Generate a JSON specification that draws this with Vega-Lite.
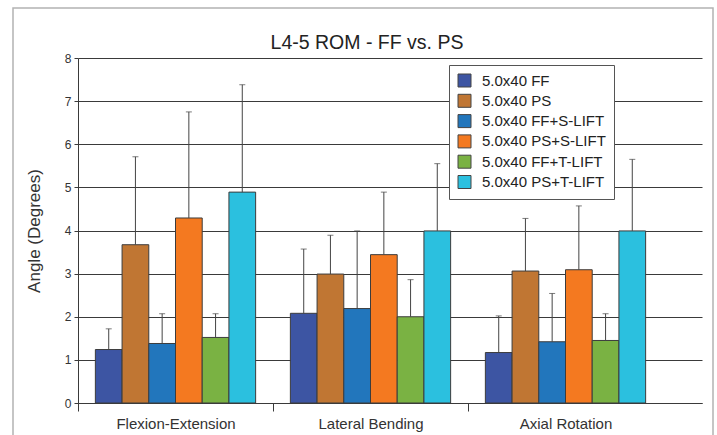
{
  "$schema": "https://vega.github.io/schema/vega-lite/v6.json",
  "width": 700,
  "height": 430,
  "autosize": {"type": "none"},
  "padding": {"left": 13, "top": 8, "right": 4, "bottom": 0},
  "background": "white",
  "config": {
    "font": "Liberation Sans",
    "view": {"stroke": "#b3b3b3", "strokeWidth": 1.5},
    "axis": {"labelColor": "#333", "titleColor": "#333", "domainColor": "#3a3a3a", "tickColor": "#3a3a3a", "gridColor": "#3a3a3a", "gridOpacity": 1}
  },
  "title": {"text": "L4-5 ROM - FF vs. PS", "fontSize": 19.5, "fontWeight": "normal", "color": "#222", "anchor": "middle", "frame": "group", "offset": -60, "dx": 4, "baseline": "alphabetic"},
  "data": {"values": [
    {"cat": "Flexion-Extension", "series": "5.0x40 FF", "value": 1.24, "upper": 1.72},
    {"cat": "Flexion-Extension", "series": "5.0x40 PS", "value": 3.67, "upper": 5.71},
    {"cat": "Flexion-Extension", "series": "5.0x40 FF+S-LIFT", "value": 1.38, "upper": 2.07},
    {"cat": "Flexion-Extension", "series": "5.0x40 PS+S-LIFT", "value": 4.29, "upper": 6.75},
    {"cat": "Flexion-Extension", "series": "5.0x40 FF+T-LIFT", "value": 1.52, "upper": 2.07},
    {"cat": "Flexion-Extension", "series": "5.0x40 PS+T-LIFT", "value": 4.89, "upper": 7.38},
    {"cat": "Lateral Bending", "series": "5.0x40 FF", "value": 2.08, "upper": 3.57},
    {"cat": "Lateral Bending", "series": "5.0x40 PS", "value": 2.99, "upper": 3.89},
    {"cat": "Lateral Bending", "series": "5.0x40 FF+S-LIFT", "value": 2.19, "upper": 3.99},
    {"cat": "Lateral Bending", "series": "5.0x40 PS+S-LIFT", "value": 3.44, "upper": 4.89},
    {"cat": "Lateral Bending", "series": "5.0x40 FF+T-LIFT", "value": 2.0, "upper": 2.86},
    {"cat": "Lateral Bending", "series": "5.0x40 PS+T-LIFT", "value": 3.99, "upper": 5.55},
    {"cat": "Axial Rotation", "series": "5.0x40 FF", "value": 1.17, "upper": 2.02},
    {"cat": "Axial Rotation", "series": "5.0x40 PS", "value": 3.06, "upper": 4.28},
    {"cat": "Axial Rotation", "series": "5.0x40 FF+S-LIFT", "value": 1.42, "upper": 2.54},
    {"cat": "Axial Rotation", "series": "5.0x40 PS+S-LIFT", "value": 3.09, "upper": 4.57},
    {"cat": "Axial Rotation", "series": "5.0x40 FF+T-LIFT", "value": 1.45, "upper": 2.07},
    {"cat": "Axial Rotation", "series": "5.0x40 PS+T-LIFT", "value": 3.99, "upper": 5.65}
  ]},
  "encoding": {
    "x": {
      "field": "cat", "type": "nominal", "sort": null,
      "scale": {"range": [65, 689], "paddingInner": 0, "paddingOuter": 0.1, "align": 0},
      "axis": {"title": null, "labelAngle": 0, "labelFontSize": 15, "tickSize": 8, "labelPadding": 5, "tickOffset": -97.5, "labelOffset": 97.5, "offset": -35, "grid": false, "domainWidth": 1}
    },
    "xOffset": {
      "field": "series", "type": "nominal", "sort": null,
      "scale": {"paddingInner": 0, "paddingOuter": 0.65}
    }
  },
  "layer": [
    {
      "mark": {"type": "bar", "stroke": "#3c3c3c", "strokeWidth": 1},
      "encoding": {
        "y": {
          "field": "value", "type": "quantitative",
          "scale": {"domain": [0, 8], "range": [395, 50], "nice": false},
          "axis": {"title": "Angle (Degrees)", "titleFontSize": 17, "titleFontWeight": "normal", "titlePadding": 21, "values": [0, 1, 2, 3, 4, 5, 6, 7, 8], "labelFontSize": 12, "tickSize": 4, "labelPadding": 3, "offset": -65, "grid": true, "domainWidth": 1}
        },
        "color": {
          "field": "series", "type": "nominal", "sort": null,
          "scale": {
            "domain": ["5.0x40 FF", "5.0x40 PS", "5.0x40 FF+S-LIFT", "5.0x40 PS+S-LIFT", "5.0x40 FF+T-LIFT", "5.0x40 PS+T-LIFT"],
            "range": ["#3D55A3", "#C07633", "#2276BC", "#F47920", "#7AB243", "#2BC0DF"]
          },
          "legend": {
            "title": null, "orient": "none", "legendX": 436, "legendY": 57,
            "padding": 8, "fillColor": "white", "strokeColor": "#555",
            "symbolType": "square", "symbolSize": 169, "symbolStrokeColor": "#444", "symbolStrokeWidth": 1,
            "labelFontSize": 15, "labelColor": "#222", "rowPadding": 3.3, "labelOffset": 10
          }
        }
      }
    },
    {
      "mark": {"type": "rule", "color": "#444", "strokeWidth": 1},
      "encoding": {
        "y": {"field": "value", "type": "quantitative"},
        "y2": {"field": "upper"}
      }
    },
    {
      "mark": {"type": "tick", "color": "#444", "thickness": 1, "size": 6, "orient": "horizontal"},
      "encoding": {
        "y": {"field": "upper", "type": "quantitative"}
      }
    }
  ]
}
